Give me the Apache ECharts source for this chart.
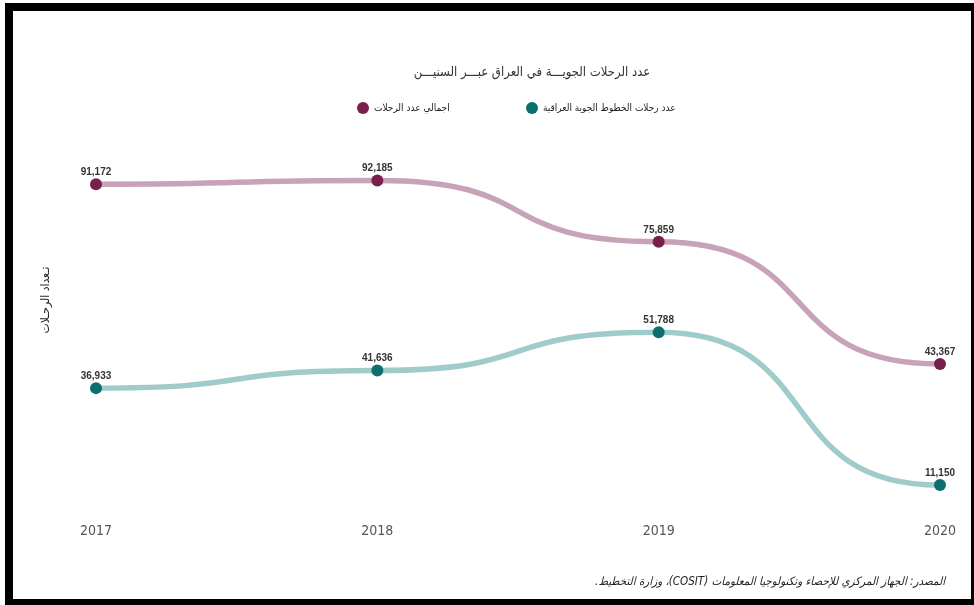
<!DOCTYPE html>
<html>
<head>
<meta charset="utf-8">
<script src="https://cdn.jsdelivr.net/npm/echarts@6/dist/echarts.min.js"></script>
<style>
html,body{margin:0;padding:0;background:#fff;}
#chart{width:974px;height:605px;}
</style>
</head>
<body>
<div id="chart"></div>
<script>
const years = ['2017', '2018', '2019', '2020'];
const totalFlights = [91172, 92185, 75859, 43367];
const iraqiFlights = [36933, 41636, 51788, 11150];

const titleText = 'عدد الرحلات الجويـــة في العراق عبـــر السنيـــن';
const totalName = 'اجمالي عدد الرحلات';
const iraqiName = 'عدد رحلات الخطوط الجوية العراقية';
const yName = 'تـعداد الرحـلات';
const sourceText = 'المصدر: الجهاز المركزي للإحصاء وتكنولوجيا المعلومات (COSIT)، وزارة التخطيط.';

const arabicFont = '"DejaVu Sans Condensed", "DejaVu Sans", sans-serif';
const narrowFont = '"DejaVu Sans Condensed", "Liberation Sans", sans-serif';
const labelFont = '"Liberation Sans", Arial, sans-serif';

const totalDark = '#7a1e4e', totalLight = '#c8a3b7';
const iraqiDark = '#0d6e6e', iraqiLight = '#a0cbcb';

function curveSeries(values, color) {
  return {
    type: 'custom',
    silent: true,
    z: 1,
    data: values.map((v, i) => [i, v]),
    renderItem: function (params, api) {
      const i = params.dataIndex;
      if (i >= values.length - 1) return null;
      const p0 = api.coord([i, values[i]]);
      const p1 = api.coord([i + 1, values[i + 1]]);
      const dx = (p1[0] - p0[0]) * 0.6;
      return {
        type: 'bezierCurve',
        shape: {
          x1: p0[0], y1: p0[1],
          cpx1: p0[0] + dx, cpy1: p0[1],
          cpx2: p1[0] - dx, cpy2: p1[1],
          x2: p1[0], y2: p1[1]
        },
        style: { stroke: color, lineWidth: 5.5, fill: null, lineCap: 'round' }
      };
    }
  };
}

function pointSeries(name, values, color) {
  return {
    name: name,
    type: 'line',
    data: values,
    z: 3,
    symbol: 'circle',
    symbolSize: 12,
    itemStyle: { color: color },
    lineStyle: { width: 0, opacity: 0 },
    label: {
      show: true,
      position: 'top',
      distance: 1,
      color: '#333',
      fontFamily: labelFont,
      fontWeight: 'bold',
      fontSize: 10,
      formatter: p => p.value.toLocaleString('en-US')
    }
  };
}

const legendText = { fontFamily: arabicFont, fontSize: 10, color: '#222' };

const chart = echarts.init(document.getElementById('chart'));
chart.setOption({
  animation: false,
  backgroundColor: '#fff',
  title: {
    text: titleText,
    left: 527,
    textAlign: 'center',
    top: 61,
    textStyle: { fontFamily: arabicFont, fontSize: 13, fontWeight: 'normal', color: '#333' }
  },
  legend: [
    {
      data: [totalName],
      top: 97,
      left: 352,
      itemWidth: 12,
      itemHeight: 12,
      icon: 'circle',
      textStyle: legendText
    },
    {
      data: [iraqiName],
      top: 97,
      left: 521,
      itemWidth: 12,
      itemHeight: 12,
      icon: 'circle',
      textStyle: legendText
    }
  ],
  grid: { left: 96, right: 34, top: 151, bottom: 78 },
  xAxis: {
    type: 'category',
    data: years,
    boundaryGap: false,
    axisLine: { show: false },
    axisTick: { show: false },
    axisLabel: { margin: -3, fontSize: 14, color: '#555', fontFamily: narrowFont }
  },
  yAxis: {
    type: 'value',
    min: 0,
    max: 100000,
    axisLine: { show: false },
    axisTick: { show: false },
    axisLabel: { show: false },
    splitLine: { show: false }
  },
  graphic: [
    {
      type: 'rect',
      shape: { x: 9, y: 7, width: 966, height: 596 },
      style: { fill: null, stroke: '#000', lineWidth: 8 },
      silent: true
    },
    {
      type: 'text',
      x: 46,
      y: 300,
      rotation: Math.PI / 2,
      style: {
        text: yName,
        font: '12px ' + arabicFont,
        fill: '#222',
        align: 'center',
        verticalAlign: 'middle'
      }
    },
    {
      type: 'text',
      right: 29,
      top: 576,
      style: {
        text: '\u202B' + sourceText + '\u202C',
        font: 'italic 11.5px ' + arabicFont,
        fill: '#222'
      }
    }
  ],
  series: [
    curveSeries(totalFlights, totalLight),
    curveSeries(iraqiFlights, iraqiLight),
    pointSeries(totalName, totalFlights, totalDark),
    pointSeries(iraqiName, iraqiFlights, iraqiDark)
  ]
});
</script>
</body>
</html>
